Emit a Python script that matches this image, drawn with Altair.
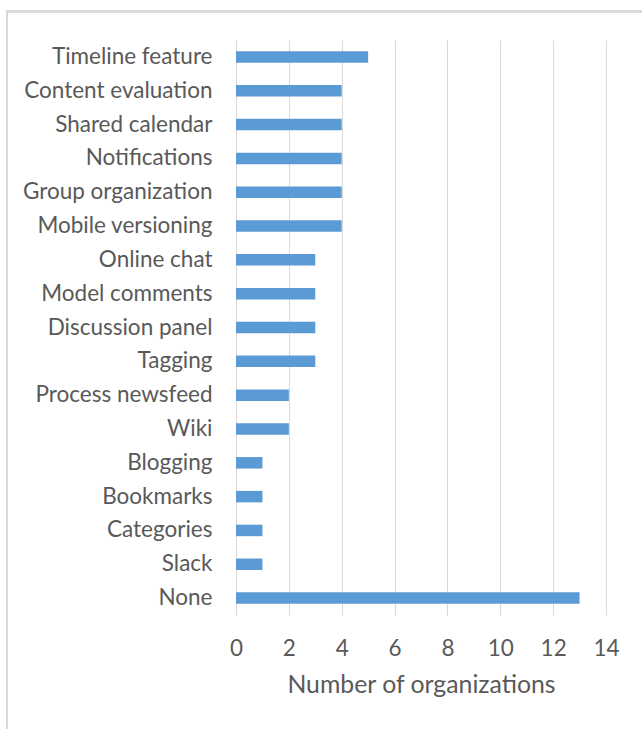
import altair as alt
import pandas as pd

features = ["Timeline feature", "Content evaluation", "Shared calendar", "Notifications",
            "Group organization", "Mobile versioning", "Online chat", "Model comments",
            "Discussion panel", "Tagging", "Process newsfeed", "Wiki", "Blogging",
            "Bookmarks", "Categories", "Slack", "None"]
counts = [5, 4, 4, 4, 4, 4, 3, 3, 3, 3, 2, 2, 1, 1, 1, 1, 13]
x_ticks = [0, 2, 4, 6, 8, 10, 12, 14]

df = pd.DataFrame({"feature": features, "count": counts})

FONT = "Lato"
GREY = "#595959"

bars = alt.Chart(df).mark_bar(color="#5b9bd5").encode(
    x=alt.X("count:Q",
            scale=alt.Scale(domain=[0, 14], nice=False),
            axis=alt.Axis(values=x_ticks, title="Number of organizations",
                          grid=True, gridColor="#d9d9d9", gridWidth=1,
                          domain=False, ticks=False, labelFlush=False,
                          labelFont=FONT, labelFontSize=22.5, labelColor=GREY,
                          labelPadding=22,
                          titleFont=FONT, titleFontSize=24.8, titleColor=GREY,
                          titleFontWeight="normal", titlePadding=13)),
    y=alt.Y("feature:N", sort=features,
            scale=alt.Scale(paddingInner=0.66, paddingOuter=0.33),
            axis=alt.Axis(title=None, domain=False, ticks=False, grid=False,
                          labelFont=FONT, labelFontSize=22.5, labelColor=GREY,
                          labelPadding=24, labelLimit=300)),
)

border = alt.Chart(df).mark_rect(fill=None, stroke="#d9d9d9", strokeWidth=1.5).encode(
    x=alt.value(-229), x2=alt.value(460), y=alt.value(-28.5), y2=alt.value(720)
)

chart = alt.layer(border, bars).properties(
    width=370, height=575,
    background="white",
    padding={"left": 236, "top": 40, "right": 36, "bottom": 114},
    autosize=alt.AutoSizeParams(type="none"),
).configure_view(stroke=None)

chart.save("out.html", embed_options={"renderer": "svg", "actions": False})
